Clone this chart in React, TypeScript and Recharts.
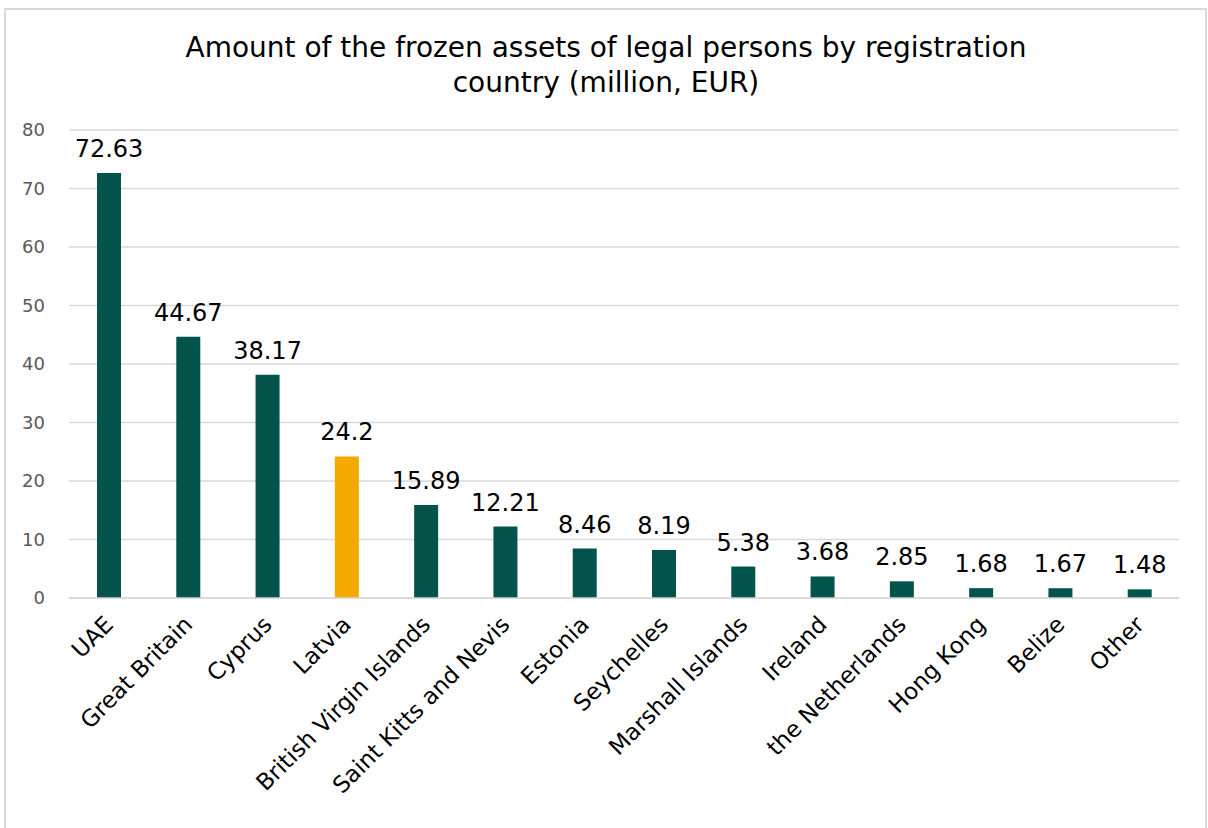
import React from 'react';
import { BarChart, Bar, XAxis, YAxis, CartesianGrid, LabelList, Cell } from 'recharts';

const countries = [
    'UAE',
    'Great Britain',
    'Cyprus',
    'Latvia',
    'British Virgin Islands',
    'Saint Kitts and Nevis',
    'Estonia',
    'Seychelles',
    'Marshall Islands',
    'Ireland',
    'the Netherlands',
    'Hong Kong',
    'Belize',
    'Other',
];
const amounts = [72.63, 44.67, 38.17, 24.2, 15.89, 12.21, 8.46, 8.19, 5.38, 3.68, 2.85, 1.68, 1.67, 1.48];
const yTicks = [0, 10, 20, 30, 40, 50, 60, 70, 80];
const highlighted = 'Latvia';

const FONT = '"DejaVu Sans", Verdana, sans-serif';
const TEAL = '#02534B';
const GOLD = '#F2A900';
const GRID = '#D9D9D9';

const data = countries.map((country, i) => ({ country, amount: amounts[i] }));

// rotated category labels, end of text sits just right of the bar centre
const AngledTick = ({ x, y, payload }: any) => {
    const tx = x + 6;
    const ty = y + 28;
    return (
        <text
            x={tx}
            y={ty}
            transform={`rotate(-45 ${tx} ${ty})`}
            textAnchor="end"
            fontSize={23}
            fontFamily={FONT}
            fill="#000"
        >
            {payload.value}
        </text>
    );
};

export default function App() {
    return (
        <div style={{ position: 'fixed', left: 0, top: 0, width: 1208, height: 828, overflow: 'hidden', background: '#fff' }}>
            {/* chart frame */}
            <div
                style={{
                    position: 'absolute',
                    left: 4,
                    top: 8,
                    width: 1199,
                    height: 840,
                    borderLeft: `2px solid ${GRID}`,
                    borderRight: `2px solid ${GRID}`,
                    borderTop: `2px solid ${GRID}`,
                }}
            />
            <svg width={1208} height={110} style={{ position: 'absolute', left: 0, top: 0 }}>
                <text x={606} y={57} textAnchor="middle" fontSize={28} fontFamily={FONT} fill="#000">
                    Amount of the frozen assets of legal persons by registration
                </text>
                <text x={606} y={92} textAnchor="middle" fontSize={28} fontFamily={FONT} fill="#000">
                    country (million, EUR)
                </text>
            </svg>

            <div style={{ position: 'absolute', left: 0, top: 0 }}>
                <BarChart
                    width={1208}
                    height={828}
                    data={data}
                    margin={{ top: 130, right: 29, bottom: 30, left: 0 }}
                >
                    <CartesianGrid vertical={false} stroke={GRID} strokeWidth={1.5} />
                    <XAxis
                        dataKey="country"
                        interval={0}
                        height={200}
                        tickLine={false}
                        tickSize={0}
                        tickMargin={0}
                        axisLine={{ stroke: GRID, strokeWidth: 1.5 }}
                        tick={<AngledTick />}
                    />
                    <YAxis
                        domain={[0, 80]}
                        ticks={yTicks}
                        width={69}
                        axisLine={false}
                        tickLine={false}
                        tickMargin={18}
                        tick={{ fontSize: 18, fill: '#595959', fontFamily: FONT }}
                    />
                    <Bar dataKey="amount" barSize={24} isAnimationActive={false}>
                        {data.map((d) => (
                            <Cell key={d.country} fill={d.country === highlighted ? GOLD : TEAL} />
                        ))}
                        <LabelList
                            dataKey="amount"
                            position="top"
                            offset={16}
                            fontSize={24}
                            fontFamily={FONT}
                            fill="#000"
                        />
                    </Bar>
                </BarChart>
            </div>
        </div>
    );
}
